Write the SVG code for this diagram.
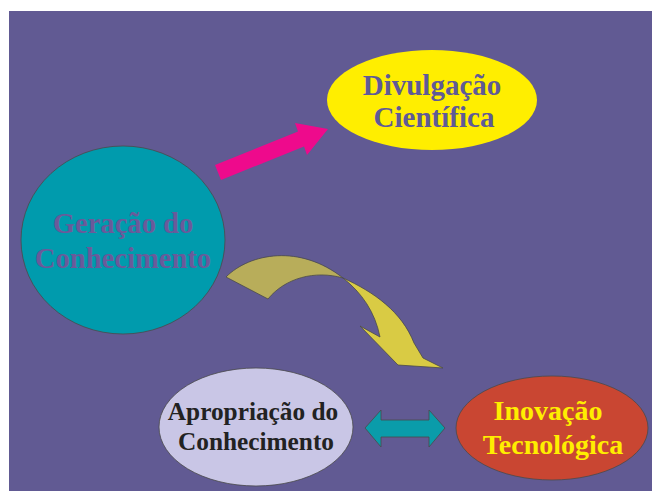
<svg xmlns="http://www.w3.org/2000/svg" width="652" height="491" viewBox="0 0 652 491">
<style>
  .t { font-family: "Liberation Serif", "Times New Roman", serif; font-weight: bold; text-anchor: middle; }
  .edge { stroke: #4a4a4a; stroke-width: 0.8; }
</style>
<rect x="0" y="0" width="652" height="491" fill="#ffffff"/>
<rect x="9" y="11" width="643" height="480" fill="#615A93"/>

<g id="connectors">
  <polygon id="arrow-pink" points="215,165 298,131.5 295,123 328,129 307,155 304,146.5 221,180" fill="#EE0A8C"/>
  <g id="arrow-curved" class="edge">
    <path d="M226,277 C250,253 300,244 343,278 C315,270 285,278 268,299 Z" fill="#B8AD5A"/>
    <path d="M343,278 C374,292 402,312 414,343 L423,358 L443,368 L398,365 L360,326 L380,337 C375,312 362,293 343,278 Z" fill="#D9CB44"/>
  </g>
  <polygon id="arrow-double" class="edge" points="365,428 381,410 381,420 429,420 429,410 445,428 429,447 429,437 381,437 381,447" fill="#0A9CAA"/>
</g>

<g id="node-geracao">
  <ellipse cx="123" cy="240" rx="102" ry="94" fill="#009BAD" class="edge"/>
  <text class="t" x="123" y="233" font-size="28.6" fill="#6A5A9A">Geração do</text>
  <text class="t" x="123" y="268" font-size="28.6" fill="#6A5A9A">Conhecimento</text>
</g>

<g id="node-divulgacao">
  <ellipse cx="432" cy="100" rx="105" ry="50" fill="#FFEE00"/>
  <text class="t" x="432" y="95" font-size="29" fill="#5F5A97">Divulgação</text>
  <text class="t" x="434" y="127" font-size="29" fill="#5F5A97">Científica</text>
</g>

<g id="node-apropriacao">
  <ellipse cx="256" cy="427" rx="97" ry="59" fill="#C9C6E6" class="edge"/>
  <text class="t" x="253" y="420" font-size="25.3" fill="#222222">Apropriação do</text>
  <text class="t" x="256" y="450" font-size="25.3" fill="#222222">Conhecimento</text>
</g>

<g id="node-inovacao">
  <ellipse cx="552" cy="428" rx="96" ry="52" fill="#C94632" class="edge"/>
  <text class="t" x="548" y="420" font-size="28" fill="#FFEE00">Inovação</text>
  <text class="t" x="553" y="454" font-size="28" fill="#FFEE00">Tecnológica</text>
</g>
</svg>
